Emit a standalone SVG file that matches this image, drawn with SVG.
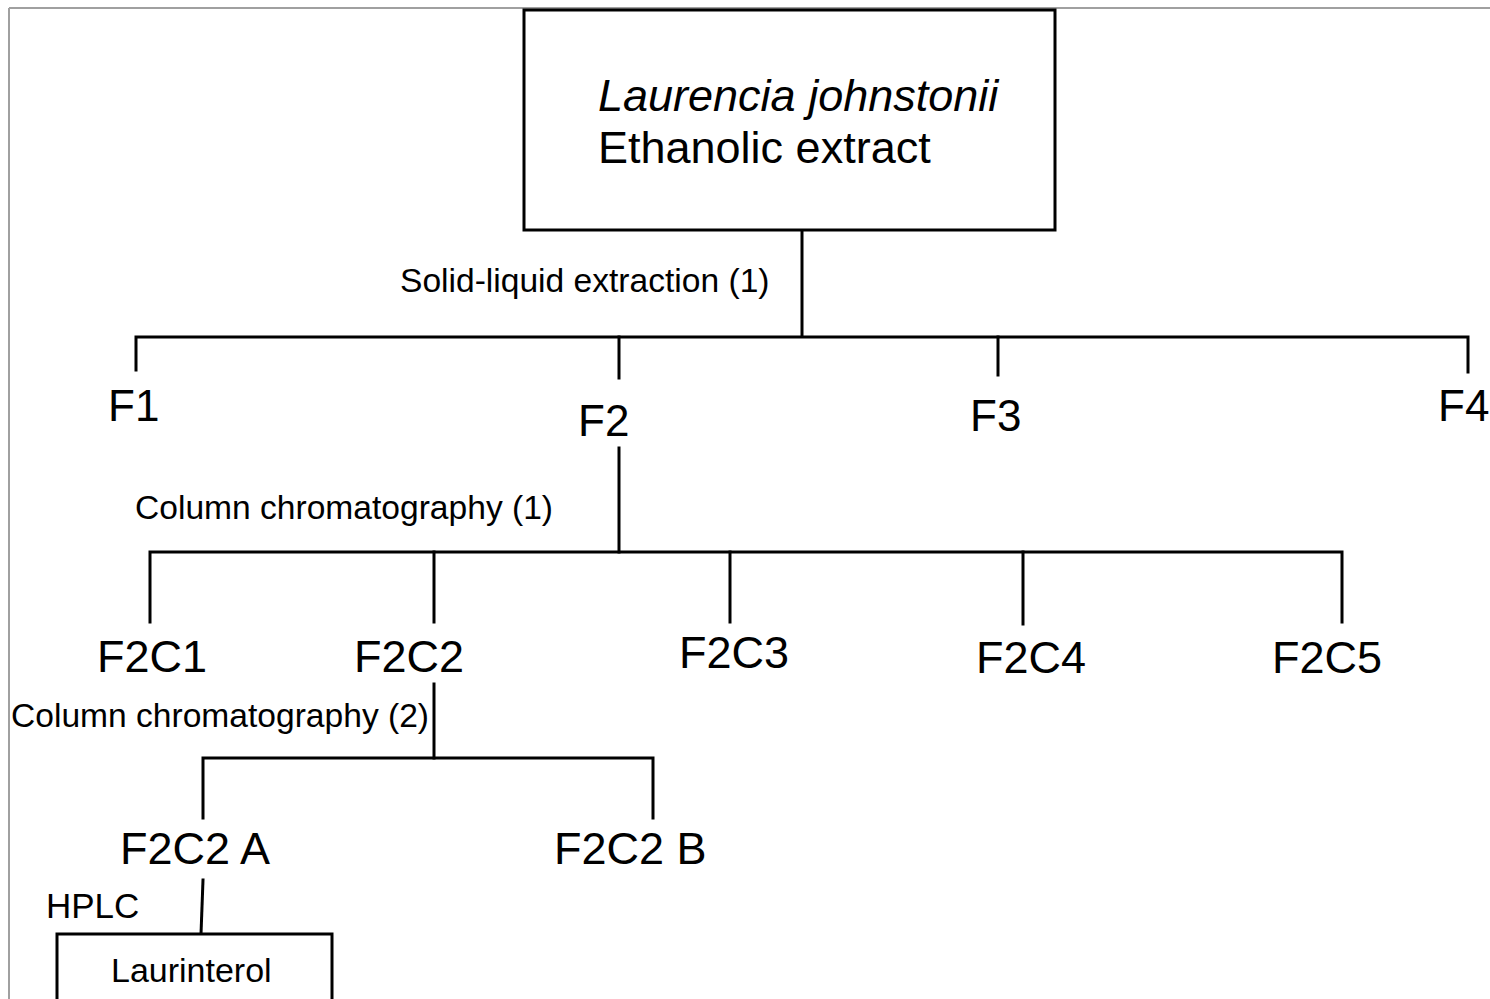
<svg xmlns="http://www.w3.org/2000/svg" width="1490" height="999" viewBox="0 0 1490 999">
<style>
.t{font-family:"Liberation Sans",Arial,sans-serif;fill:#000}
.ln{stroke:#000;stroke-width:3;fill:none;stroke-linecap:square}
.box{stroke:#000;stroke-width:3;fill:#fff}
.proc{font-size:33.6px}
.f{font-size:44px}
.fc{font-size:45px}
</style>
<rect width="1490" height="999" fill="#fff"/>
<g id="frame" stroke="#a0a0a0" stroke-width="2" fill="none">
<line x1="9" y1="8" x2="1490" y2="8"/>
<line x1="9" y1="8" x2="9" y2="999"/>
</g>
<g id="connectors">
<path class="ln" d="M802,230 V336"/>
<path class="ln" d="M136,370 V337 H1468 V372"/>
<path class="ln" d="M619,337 V378"/>
<path class="ln" d="M998,337 V375"/>
<path class="ln" d="M619,448 V552"/>
<path class="ln" d="M150,622 V552 H1342 V622"/>
<path class="ln" d="M434,552 V622"/>
<path class="ln" d="M730,552 V622"/>
<path class="ln" d="M1023,552 V624"/>
<path class="ln" d="M434,684 V758"/>
<path class="ln" d="M203,818 V758 H653 V818"/>
<path class="ln" d="M203,880 L201,934"/>
</g>
<g id="n-extract">
<rect class="box" x="524" y="10" width="531" height="220"/>
<text class="t" x="598" y="111" font-size="45" font-style="italic">Laurencia johnstonii</text>
<text class="t" x="598" y="163" font-size="45">Ethanolic extract</text>
</g>
<g id="lbl-sle"><text class="t" x="400" y="292" font-size="33.6">Solid-liquid extraction (1)</text></g>
<g id="n-F1"><text class="t f" x="108" y="421">F1</text></g>
<g id="n-F2"><text class="t f" x="578" y="436">F2</text></g>
<g id="n-F3"><text class="t f" x="970" y="431">F3</text></g>
<g id="n-F4"><text class="t f" x="1438" y="421">F4</text></g>
<g id="lbl-cc1"><text class="t proc" x="135" y="519">Column chromatography (1)</text></g>
<g id="n-F2C1"><text class="t fc" x="97" y="672">F2C1</text></g>
<g id="n-F2C2"><text class="t fc" x="354" y="672">F2C2</text></g>
<g id="n-F2C3"><text class="t fc" x="679" y="668">F2C3</text></g>
<g id="n-F2C4"><text class="t fc" x="976" y="673">F2C4</text></g>
<g id="n-F2C5"><text class="t fc" x="1272" y="673">F2C5</text></g>
<g id="lbl-cc2"><text class="t proc" x="11" y="727">Column chromatography (2)</text></g>
<g id="n-F2C2A"><text class="t" x="120" y="864" font-size="45">F2C2 A</text></g>
<g id="n-F2C2B"><text class="t" x="554" y="864" font-size="45">F2C2 B</text></g>
<g id="lbl-hplc"><text class="t" x="46" y="918" font-size="35">HPLC</text></g>
<g id="n-laurinterol">
<rect class="box" x="57" y="934" width="275" height="80"/>
<text class="t" x="111" y="982" font-size="34">Laurinterol</text>
</g>
</svg>
